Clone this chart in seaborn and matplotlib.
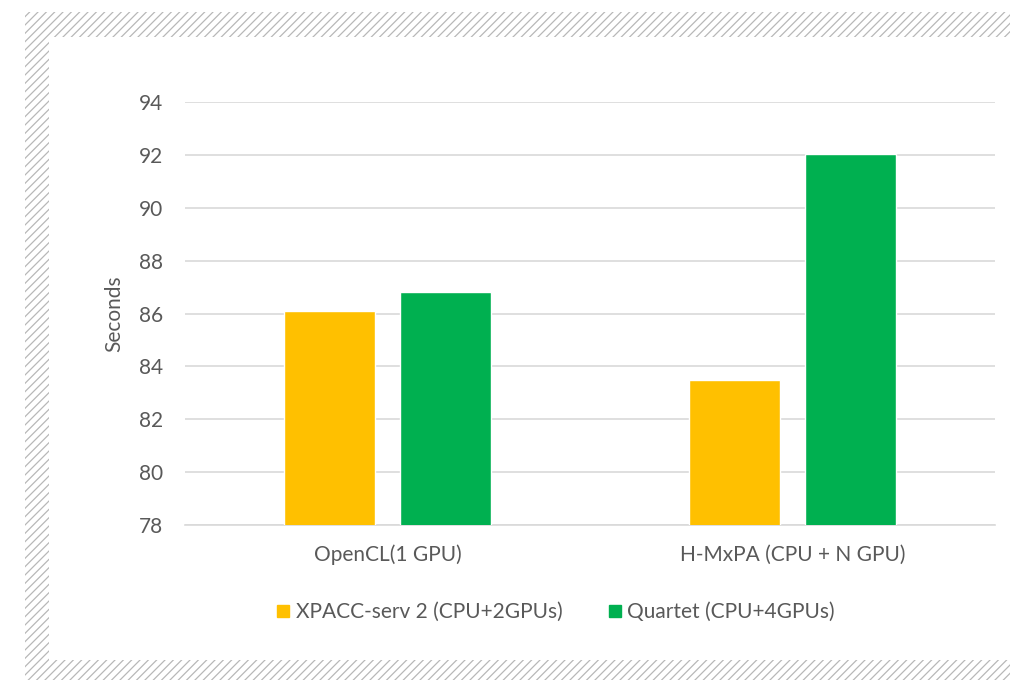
import pandas as pd
import matplotlib.pyplot as plt
import seaborn as sns
from matplotlib.patches import Rectangle
from matplotlib.lines import Line2D

# Chart data
categories = ["OpenCL(1 GPU)", "H-MxPA (CPU + N GPU)"]
series_names = ["XPACC-serv 2 (CPU+2GPUs)", "Quartet (CPU+4GPUs)"]
xpacc_values = [86.1, 83.5]
quartet_values = [86.8, 92.05]
y_ticks = [78, 80, 82, 84, 86, 88, 90, 92, 94]

COLORS = ["#FFC000", "#00B050"]
TEXT = "#595959"
GRID = "#D9D9D9"

df = pd.DataFrame({
    "category": categories * 2,
    "series": [series_names[0]] * 2 + [series_names[1]] * 2,
    "seconds": xpacc_values + quartet_values,
})

sns.set_theme(style="white")
plt.rcParams["font.family"] = ["Lato", "DejaVu Sans"]
plt.rcParams["hatch.linewidth"] = 0.9

fig = plt.figure(figsize=(10.1, 6.8), dpi=100)

# hatched frame behind a white panel
fig.patches.append(Rectangle((25 / 1010, 0), 1, (680 - 12) / 680, transform=fig.transFigure,
                             facecolor="white", edgecolor="#b8b8b8", hatch="////", linewidth=0, zorder=-3))
fig.patches.append(Rectangle((49 / 1010, 20 / 680), 1, (660 - 37) / 680, transform=fig.transFigure,
                             facecolor="white", edgecolor="none", linewidth=0, zorder=-2))

ax = fig.add_axes([185 / 1010, (680 - 525) / 680, 810 / 1010, (525 - 102) / 680])
ax.set_facecolor("none")

sns.barplot(data=df, x="category", y="seconds", hue="series", order=categories,
            hue_order=series_names, palette=COLORS, width=0.57, gap=0.21,
            saturation=1, legend=False, ax=ax, zorder=3)

ax.set_ylim(78, 94)
ax.set_yticks(y_ticks)
ax.yaxis.grid(True, color=GRID, linewidth=1.2, zorder=0)
ax.set_axisbelow(True)
for side in ["left", "right", "top"]:
    ax.spines[side].set_visible(False)
ax.spines["bottom"].set_color(GRID)
ax.spines["bottom"].set_linewidth(1.2)
ax.tick_params(axis="both", length=0, colors=TEXT, labelsize=15)
ax.tick_params(axis="y", pad=16)
ax.tick_params(axis="x", pad=14)
ax.set_xlabel("")
ax.set_ylabel("Seconds", color=TEXT, fontsize=15, labelpad=10)

handles = [Line2D([0], [0], marker="s", linestyle="none", markersize=8,
                  markerfacecolor=c, markeredgecolor=c) for c in COLORS]
fig.legend(handles, series_names, loc="center", bbox_to_anchor=(554 / 1010, (680 - 612) / 680),
           ncol=2, frameon=False, fontsize=15, labelcolor=TEXT, handletextpad=0.1,
           columnspacing=2.0, handlelength=1.0)

fig.savefig("out.png", dpi=100)
